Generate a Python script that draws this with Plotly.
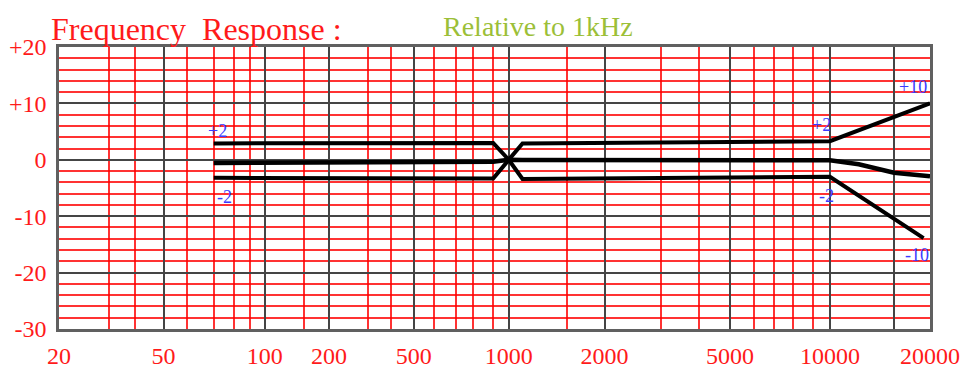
import numpy as np
import plotly.graph_objects as go

# ---------------- data ----------------
# Hand-drawn "graph paper" frequency scale: each printed grid frequency and
# where it sits along the horizontal axis (0 = 20 Hz edge, 1000 = 20 kHz edge)
GRID_FREQS = [20, 30, 40, 50, 60, 70, 80, 90, 100, 150, 200, 300, 400, 500, 600, 700, 800,
              900, 1000, 1500, 2000, 3000, 4000, 5000, 6000, 7000, 8000, 9000, 10000,
              15000, 20000]
GRID_POS = [0, 57.8, 87.6, 120.1, 147.0, 177.6, 200.6, 219.7, 236.2, 281.8, 309.9, 354.5,
            381.3, 407.3, 431.1, 456.3, 475.5, 498.5, 516.4, 583.5, 626.4, 691.5, 734.7,
            770.3, 797.8, 820.8, 843.1, 866.1, 885.1, 958.7, 1000]
MAJOR_FREQS = [50, 100, 200, 500, 1000, 2000, 5000, 10000, 15000]
TICK_FREQS = [20, 50, 100, 200, 500, 1000, 2000, 5000, 10000, 20000]
TICK_LABELS = ["20", "50", "100", "200", "500", "1000", "2000", "5000", "10000", "20000"]

DB_TICKS = [-30, -20, -10, 0, 10, 20]
DB_LABELS = ["-30", "-20", "-10", "0", "+10", "+20"]
DB_MINOR = [v for v in range(-28, 20, 2) if v % 10 != 0]

# tolerance curves (Hz, dB)
upper_f = [70, 900, 1000, 1100, 10000, 20000]
upper_db = [2.9, 3.0, 0.0, 2.9, 3.3, 10.0]
middle_f = [70, 900, 1000, 1100, 10000, 12000, 15000, 20000]
middle_db = [-0.55, -0.35, 0.0, -0.05, -0.1, -0.8, -2.3, -2.9]
lower_f = [70, 900, 1000, 1100, 10000, 19000]
lower_db = [-3.2, -3.3, 0.0, -3.4, -3.0, -13.9]

# tolerance labels (text, Hz, dB)
tol_text = ["+2", "-2", "+2", "-2", "+10", "-10"]
tol_f = [72, 75, 9500, 9800, 17500, 18000]
tol_db = [5.1, -6.6, 6.1, -6.4, 12.9, -16.9]


def fpos(f):
    return np.interp(np.log10(np.asarray(f, dtype=float)), np.log10(GRID_FREQS), GRID_POS)


SERIF = "Times New Roman, Liberation Serif, DejaVu Serif, serif"
RED = "#ff1a1a"

fig = go.Figure()
for fx, dbs, w in [(upper_f, upper_db, 4), (middle_f, middle_db, 4.5), (lower_f, lower_db, 4)]:
    fig.add_trace(go.Scatter(x=fpos(fx), y=dbs, mode="lines",
                             line=dict(color="black", width=w), hoverinfo="skip",
                             showlegend=False))

for t, f, d in zip(tol_text, tol_f, tol_db):
    fig.add_annotation(x=float(fpos(f)), y=d, text=t, showarrow=False,
                       font=dict(family=SERIF, size=18, color="#3a3aff"))

fig.add_annotation(xref="paper", yref="paper", x=-0.011, y=1.136, xanchor="left",
                   yanchor="top", text="Frequency&nbsp;&nbsp;Response :", showarrow=False,
                   font=dict(family=SERIF, size=32, color=RED))
fig.add_annotation(xref="paper", yref="paper", x=0.439, y=1.136, xanchor="left",
                   yanchor="top", text="Relative to 1kHz", showarrow=False,
                   font=dict(family=SERIF, size=28, color="#9cbf38"))

minor_freqs = [f for f in GRID_FREQS if f not in MAJOR_FREQS and f not in (20, 20000)]
major_vals = list(fpos(MAJOR_FREQS))
tick_vals = list(fpos(TICK_FREQS))
all_vals = sorted(set([round(v, 4) for v in major_vals + tick_vals]))
label_map = {round(float(fpos(f)), 4): l for f, l in zip(TICK_FREQS, TICK_LABELS)}
all_text = [label_map.get(v, "") for v in all_vals]

fig.update_xaxes(
    range=[0, 1000], tickmode="array", tickvals=all_vals, ticktext=all_text,
    showgrid=True, gridcolor="#454545", gridwidth=2, zeroline=False,
    showline=True, mirror=True, linecolor="#606060", linewidth=2.5,
    ticks="", ticklabelstandoff=3, automargin=False,
    tickfont=dict(family=SERIF, size=24, color=RED),
    minor=dict(tickmode="array", tickvals=list(fpos(minor_freqs)), showgrid=True,
               gridcolor="rgba(255,0,0,0.8)", gridwidth=1.6, ticks=""),
)
fig.update_yaxes(
    range=[-30, 20], tickmode="array", tickvals=DB_TICKS, ticktext=DB_LABELS,
    showgrid=True, gridcolor="#454545", gridwidth=2, zeroline=False,
    showline=True, mirror=True, linecolor="#606060", linewidth=2.5,
    ticks="", ticklabelstandoff=5, automargin=False,
    tickfont=dict(family=SERIF, size=24, color=RED),
    minor=dict(tickmode="array", tickvals=DB_MINOR, showgrid=True,
               gridcolor="rgba(255,0,0,0.8)", gridwidth=1.6, ticks=""),
)
fig.update_layout(
    width=954, height=368, margin=dict(l=51, r=32, t=39, b=47),
    plot_bgcolor="white", paper_bgcolor="white", showlegend=False,
)
fig.write_html("out.html")
